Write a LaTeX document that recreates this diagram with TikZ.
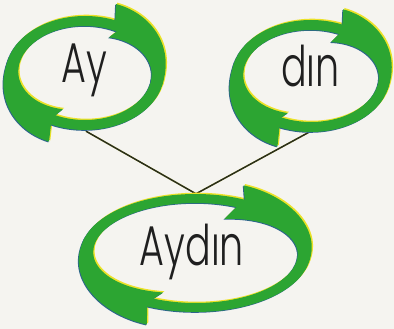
\documentclass[tikz,border=0pt]{standalone}
\usepackage{fontspec}
\usetikzlibrary{shapes.geometric}
\newfontfamily\lblfont{Poppins Light}[FakeStretch=0.68]
\definecolor{bg}{RGB}{245,244,240}
\definecolor{swgreen}{RGB}{44,165,50}
\definecolor{swyellow}{RGB}{236,226,40}
\definecolor{swblue}{RGB}{45,100,140}
\definecolor{linecol}{RGB}{40,45,30}

\newcommand\swset[6]{\def\SWx{#1}\def\SWy{#2}\def\SWa{#3}\def\SWb{#4}\def\SWtx{#5}\def\SWty{#6}}
\newcommand\swring[1]{%
  \fill[#1, even odd rule] (\SWx,\SWy) ellipse [x radius={(\SWa+\SWtx)*1pt}, y radius={(\SWb+\SWty)*1pt}]
     (\SWx,\SWy) ellipse [x radius={\SWa*1pt}, y radius={\SWb*1pt}];}
% #1 colour, #2 outer barb angle, #3 extra width, #4 inner barb angle, #5 inner barb depth
\newcommand\swhead[5]{%
  \pgfmathsetmacro\HA{#2}\pgfmathsetmacro\HB{#2-85}%
  \pgfmathsetmacro\HC{#4-75}\pgfmathsetmacro\HD{#4}%
  \fill[#1] ({\SWx+(\SWa+\SWtx+#3)*cos(#2)},{\SWy-(\SWb+\SWty+#3)*sin(#2)})
    -- plot[domain=\HA:\HB, samples=40, variable=\t]
       ({\SWx+(\SWa+\SWtx+#3*(1+cos(180*(#2-(\t))/85))/2)*cos(\t)},
        {\SWy-(\SWb+\SWty+#3*(1+cos(180*(#2-(\t))/85))/2)*sin(\t)})
    -- ({\SWx+(\SWa+3)*cos(\HB)},{\SWy-(\SWb+3)*sin(\HB)})
    -- plot[domain=\HC:\HD, samples=40, variable=\t]
       ({\SWx+(\SWa-#5*max(0,((\t)-(\HC))/75)*sqrt(max(0,((\t)-(\HC))/75)))*cos(\t)},
        {\SWy-(\SWb-#5*max(0,((\t)-(\HC))/75)*sqrt(max(0,((\t)-(\HC))/75)))*sin(\t)})
    -- ({\SWx+(\SWa+2)*cos(#4-5)},{\SWy-(\SWb+2)*sin(#4-5)})
    -- ({\SWx+(\SWa+\SWtx-2)*cos(#2-4)},{\SWy-(\SWb+\SWty-2)*sin(#2-4)})
    -- cycle;}
\newcommand\ayswirl[1]{\swset{85}{73}{67}{47}{12}{10}\swring{#1}%
  \swhead{#1}{71}{16}{66}{8}\swhead{#1}{248}{17}{248}{8}}
\newcommand\dinswirl[1]{\swset{311}{76}{68}{46}{11}{10}\swring{#1}%
  \swhead{#1}{70}{15}{70}{10}\swhead{#1}{250}{19}{248}{6}}
\newcommand\aydinswirl[1]{\swset{195.5}{253}{102.5}{50}{12}{9}\swring{#1}%
  \swhead{#1}{68}{14}{71}{14}\swhead{#1}{248.5}{18}{250}{8}}
\newcommand\allswirls[1]{\ayswirl{#1}\dinswirl{#1}\aydinswirl{#1}}

\begin{document}
\begin{tikzpicture}[x=1pt,y=-1pt,
  lbl/.style={font=\lblfont\fontsize{56}{56}\selectfont, text=black!88, inner sep=0pt, anchor=base},
  ringshape/.style={ellipse, draw=none, inner sep=0pt},
  conn/.style={draw=linecol, line width=1.5pt},
  connshade/.style={draw=swyellow, line width=1.3pt}]
\fill[bg] (0,0) rectangle (394,329);
\useasboundingbox (0,0) rectangle (394,329);
% invisible ring outlines used as connector ends
\node[ringshape, minimum width=158pt, minimum height=114pt] (ayR) at (86,74) {};
\node[ringshape, minimum width=158pt, minimum height=112pt] (dinR) at (309,76) {};
\node[ringshape, minimum width=229pt, minimum height=118pt] (aydinR) at (196,253) {};
% connectors
\begin{scope}[shift={(1,-1)}]
\draw[connshade] (ayR.south) -- (aydinR.north);
\draw[connshade] (dinR.south) -- (aydinR.north);
\end{scope}
\draw[conn] (ayR.south) -- (aydinR.north);
\draw[conn] (dinR.south) -- (aydinR.north);
% swirls
\begin{scope}[shift={(1.3,-1.3)}]\allswirls{swyellow}\end{scope}
\begin{scope}[shift={(-0.8,0.8)}]\allswirls{swblue}\end{scope}
\allswirls{swgreen}
% labels
\node[lbl] (ay) at (84,83) {Ay};
\node[lbl] (din) at (310.5,87) {dın};
\node[lbl] (aydin) at (192,265) {Aydın};
\end{tikzpicture}
\end{document}
